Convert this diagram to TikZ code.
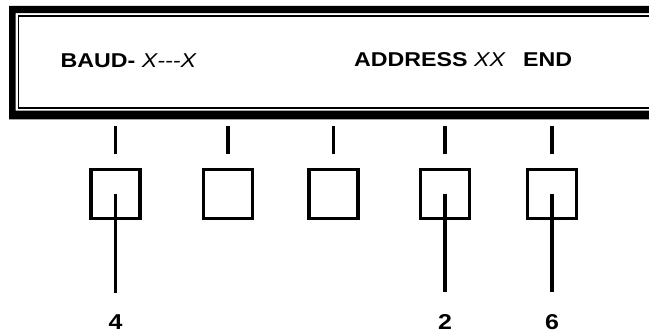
\documentclass[tikz,border=0pt]{standalone}
\usepackage{graphicx}
\usepackage{fontspec}
\setmainfont{Liberation Sans}
\newcommand{\stretchtxt}[1]{\scalebox{1.16}[1]{#1}}
\tikzset{panel/.style={x=1pt,y=-1pt,font=\fontsize{20}{24}\selectfont\bfseries},
  key/.style={draw,line width=3.2pt,minimum width=49pt,minimum height=49pt,inner sep=0pt},
  txt/.style={anchor=base west,inner sep=0pt},
  pin/.style={anchor=base,inner sep=0pt,font=\fontsize{21.5}{26}\selectfont\bfseries}}

\begin{document}
\begin{tikzpicture}[panel]
    \useasboundingbox (0,0) rectangle (649,336);
    \clip (0,0) rectangle (649,336);
    \fill[even odd rule] (9,6) rectangle (670,119.3) (15.7,13.2) rectangle (665,110.7);
    \draw[line width=1.5pt] (665,15.8) -| (18.3,108.2) -- (665,108.2);
    \node[txt] (baud) at (60.5,67.3) {\stretchtxt{BAUD- \textit{\mdseries X\kern0pt-\kern0pt-\kern0pt-\kern0pt X}}};
    \node[txt] (addr) at (354,66.7) {\stretchtxt{ADDRESS \textit{\mdseries XX}\hspace{0.75em}END}};
    \foreach \n/\x in {1/115.5,2/228,3/333.5,4/445,5/552} {
      \node[key] (k\n) at (\x,194) {};
      \draw[line width=3.2pt] ([yshift=13.5pt]k\n.north) -- ([yshift=41.5pt]k\n.north);
    }
    \foreach \n/\t in {1/4,4/2,5/6} {
      \node[pin] (l\n) at (k\n.center |- 0,330) {\stretchtxt{\t}};
      \draw[line width=3.4pt,shorten >=22.5pt] (k\n.center) -- (l\n.north);
    }
  \end{tikzpicture}
\end{document}
